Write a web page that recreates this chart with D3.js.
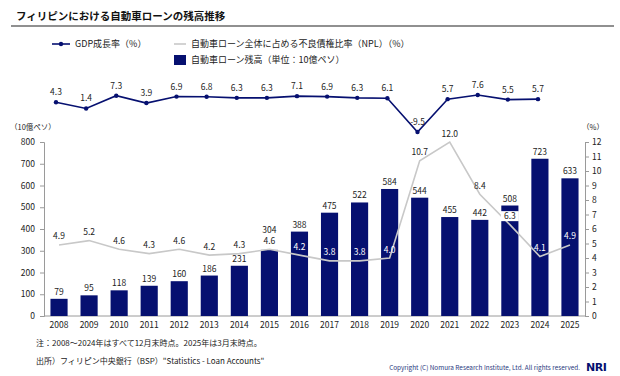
<!DOCTYPE html>
<html>
<head>
<meta charset="utf-8">
<script src="https://cdn.jsdelivr.net/npm/d3@7"></script>
<style>
  body { margin: 0; background: #fff; }
  svg { display: block; font-family: "Noto Sans CJK JP", "Noto Sans", sans-serif; }
</style>
</head>
<body>
<svg id="chart" width="620" height="376"></svg>
<script>
const years = [2008, 2009, 2010, 2011, 2012, 2013, 2014, 2015, 2016, 2017, 2018, 2019, 2020, 2021, 2022, 2023, 2024, 2025];
const loanBalance = [79, 95, 118, 139, 160, 186, 231, 304, 388, 475, 522, 584, 544, 455, 442, 508, 723, 633];
const nplRatio = [4.9, 5.2, 4.6, 4.3, 4.6, 4.2, 4.3, 4.6, 4.2, 3.8, 3.8, 4.0, 10.7, 12.0, 8.4, 6.3, 4.1, 4.9];
const gdpYears = years.slice(0, 17);
const gdpGrowth = [4.3, 1.4, 7.3, 3.9, 6.9, 6.8, 6.3, 6.3, 7.1, 6.9, 6.3, 6.1, -9.5, 5.7, 7.6, 5.5, 5.7];
const leftTicks = [0, 100, 200, 300, 400, 500, 600, 700, 800];
const rightTicks = [0, 1, 2, 3, 4, 5, 6, 7, 8, 9, 10, 11, 12];

const navy = "#061070";
const gray = "#c8c8c8";
const textColor = "#222";

const svg = d3.select("#chart");

// title + rule
svg.append("text").attr("x", 16).attr("y", 20)
  .attr("font-size", 10.5).attr("font-weight", "bold").attr("fill", "#111")
  .text("フィリピンにおける自動車ローンの残高推移");
svg.append("line").attr("x1", 11).attr("x2", 614).attr("y1", 26).attr("y2", 26)
  .attr("stroke", "#222").attr("stroke-width", 1.2);

// legend
const legend = svg.append("g").attr("font-size", 9).attr("fill", textColor);
legend.append("line").attr("x1", 52).attr("x2", 70).attr("y1", 44).attr("y2", 44)
  .attr("stroke", navy).attr("stroke-width", 1.6);
legend.append("circle").attr("cx", 61).attr("cy", 44).attr("r", 2.2).attr("fill", navy);
legend.append("text").attr("x", 75).attr("y", 47).text("GDP成長率（%）");
legend.append("line").attr("x1", 174).attr("x2", 186).attr("y1", 44).attr("y2", 44)
  .attr("stroke", gray).attr("stroke-width", 1.6);
legend.append("text").attr("x", 191).attr("y", 47).text("自動車ローン全体に占める不良債権比率（NPL）（%）");
legend.append("rect").attr("x", 174).attr("y", 55).attr("width", 12).attr("height", 10).attr("fill", navy);
legend.append("text").attr("x", 191).attr("y", 63).text("自動車ローン残高（単位：10億ペソ）");

// scales
const x = d3.scaleBand().domain(years).range([44, 585]).paddingInner(0.43).paddingOuter(0.215);
const yLeft = d3.scaleLinear().domain([0, 800]).range([316, 142]);
const yRight = d3.scaleLinear().domain([0, 12]).range([316, 142]);
const xGdp = d3.scalePoint().domain(gdpYears).range([56, 538]);
const yGdp = d3.scaleLinear().domain([-10, 8]).range([133.1, 94.2]);

// axes
const leftAxis = svg.append("g").attr("transform", "translate(44,0)")
  .call(d3.axisLeft(yLeft).tickValues(leftTicks).tickSize(4).tickPadding(5));
const rightAxis = svg.append("g").attr("transform", `translate(${x.range()[1]},0)`)
  .call(d3.axisRight(yRight).tickValues(rightTicks).tickSize(4).tickPadding(3));
const bottomAxis = svg.append("g").attr("transform", "translate(0,316)")
  .call(d3.axisBottom(x).tickSize(0).tickPadding(6));
[leftAxis, rightAxis, bottomAxis].forEach(a => {
  a.selectAll("path, line").attr("stroke", "#9a9a9a");
  a.selectAll("text").attr("font-size", 8.5).attr("fill", textColor)
    .attr("font-family", "\"Noto Sans CJK JP\", sans-serif");
});
bottomAxis.select(".domain").attr("d", `M44,0H${x.range()[1]}`);

svg.append("text").attr("x", 10).attr("y", 130).attr("font-size", 7.5).attr("fill", textColor)
  .text("（10億ペソ）");
svg.append("text").attr("x", 582).attr("y", 130).attr("font-size", 7.5).attr("fill", textColor)
  .text("（%）");

// bars
svg.append("g").selectAll("rect")
  .data(loanBalance)
  .join("rect")
  .attr("x", (d, i) => x(years[i]))
  .attr("y", d => yLeft(d))
  .attr("width", x.bandwidth())
  .attr("height", d => yLeft(0) - yLeft(d))
  .attr("fill", navy);

// 2015 value sits above the NPL label, as in the original
const barLabelLift = { 2015: 13 };
svg.append("g").attr("font-size", 8.5).attr("fill", textColor).attr("text-anchor", "middle")
  .selectAll("text")
  .data(loanBalance)
  .join("text")
  .attr("x", (d, i) => x(years[i]) + x.bandwidth() / 2)
  .attr("y", (d, i) => yLeft(d) - 4 - (barLabelLift[years[i]] || 0))
  .text(d => d);

// NPL line
const cx = i => x(years[i]) + x.bandwidth() / 2;
svg.append("path")
  .datum(nplRatio)
  .attr("fill", "none")
  .attr("stroke", gray)
  .attr("stroke-width", 1.6)
  .attr("d", d3.line().x((d, i) => cx(i)).y(d => yRight(d)));

const whiteLabels = [2016, 2017, 2018, 2019, 2024, 2025];
const nplLabels = svg.append("g").attr("font-size", 8.5).attr("text-anchor", "middle");
nplRatio.forEach((d, i) => {
  const lx = cx(i), ly = yRight(d) - 8.5;
  if (years[i] === 2023) {
    nplLabels.append("rect").attr("x", lx - 9).attr("y", ly - 5).attr("width", 18).attr("height", 10)
      .attr("fill", "#fff");
  }
  nplLabels.append("text").attr("x", lx).attr("y", ly + 3)
    .attr("fill", whiteLabels.includes(years[i]) ? "#fff" : textColor)
    .text(d.toFixed(1));
});

// GDP line
svg.append("path")
  .datum(gdpGrowth)
  .attr("fill", "none")
  .attr("stroke", navy)
  .attr("stroke-width", 1.6)
  .attr("d", d3.line().x((d, i) => xGdp(gdpYears[i])).y(d => yGdp(d)));
svg.append("g").selectAll("circle")
  .data(gdpGrowth)
  .join("circle")
  .attr("cx", (d, i) => xGdp(gdpYears[i]))
  .attr("cy", d => yGdp(d))
  .attr("r", 2.2)
  .attr("fill", navy);
svg.append("g").attr("font-size", 8.5).attr("fill", textColor).attr("text-anchor", "middle")
  .selectAll("text")
  .data(gdpGrowth)
  .join("text")
  .attr("x", (d, i) => xGdp(gdpYears[i]))
  .attr("y", d => yGdp(d) - 7)
  .text(d => d.toFixed(1));

// notes
const notes = svg.append("g").attr("font-size", 8).attr("fill", textColor);
notes.append("text").attr("x", 36).attr("y", 346).text("注：2008～2024年はすべて12月末時点。2025年は3月末時点。");
notes.append("text").attr("x", 36).attr("y", 364).text("出所）フィリピン中央銀行（BSP）\"Statistics - Loan Accounts\"");
svg.append("text").attr("x", 580).attr("y", 370).attr("text-anchor", "end")
  .attr("font-size", 6.4).attr("fill", "#2b3a80")
  .text("Copyright (C)  Nomura Research Institute, Ltd. All rights reserved.");
svg.append("text").attr("x", 586).attr("y", 371)
  .attr("font-size", 11).attr("font-weight", "bold").attr("fill", navy)
  .attr("font-family", "\"DejaVu Sans\", sans-serif").attr("letter-spacing", -0.5)
  .text("NRI");
</script>
</body>
</html>
